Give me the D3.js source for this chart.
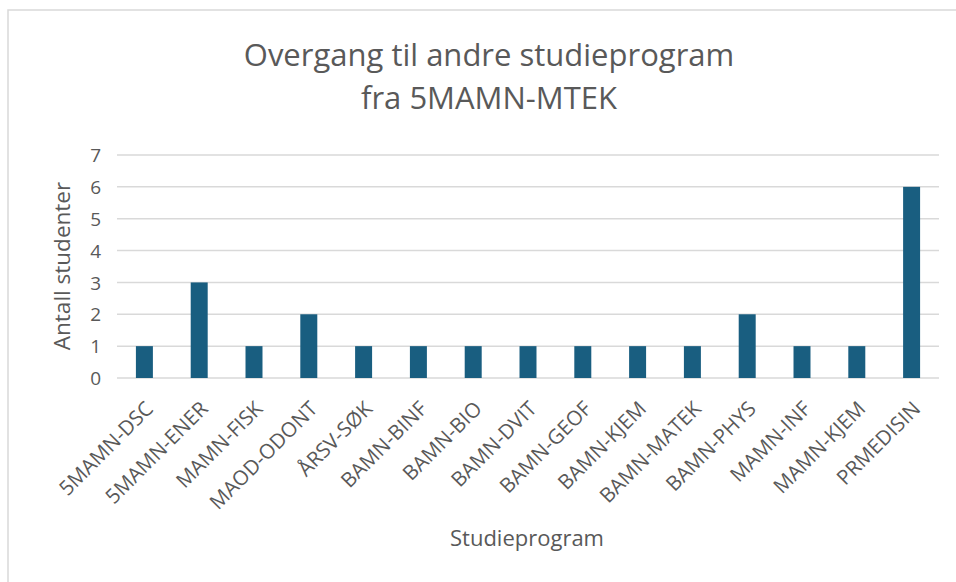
<!DOCTYPE html>
<html><head><meta charset="utf-8">
<script src="https://cdn.jsdelivr.net/npm/d3@7"></script>
<style>body{margin:0;background:#fff}svg{display:block}text{font-family:"Open Sans","Noto Sans",sans-serif}</style>
</head><body>
<svg id="c" width="956" height="582"></svg>
<script>
const categories = ["5MAMN-DSC","5MAMN-ENER","MAMN-FISK","MAOD-ODONT","ÅRSV-SØK","BAMN-BINF","BAMN-BIO","BAMN-DVIT","BAMN-GEOF","BAMN-KJEM","BAMN-MATEK","BAMN-PHYS","MAMN-INF","MAMN-KJEM","PRMEDISIN"];
const values = [1,3,1,2,1,1,1,1,1,1,1,2,1,1,6];
const yTicks = [0,1,2,3,4,5,6,7];
const titleLines = ["Overgang til andre studieprogram","fra 5MAMN-MTEK"];
const xTitle = "Studieprogram";
const yTitle = "Antall studenter";

const svg = d3.select("#c");
const m = {left:117, right:939, top:155, bottom:378};
const x = d3.scaleBand().domain(categories).range([m.left, m.right]).paddingInner(0.69).paddingOuter(0.345);
const y = d3.scaleLinear().domain([0,7]).range([m.bottom, m.top]);

// chart border
svg.append("rect").attr("x",8).attr("y",10).attr("width",960).attr("height",600)
  .attr("fill","none").attr("stroke","#d9d9d9").attr("stroke-width",1.5);

// gridlines
svg.append("g").selectAll("line").data(yTicks).join("line")
  .attr("x1",m.left).attr("x2",m.right).attr("y1",d=>y(d)).attr("y2",d=>y(d))
  .attr("stroke","#d9d9d9").attr("stroke-width",1.5);

// y axis labels
const ya = svg.append("g").attr("transform",`translate(${m.left-16},0)`)
  .call(d3.axisLeft(y).tickValues(yTicks).tickSize(0).tickPadding(0).tickFormat(d3.format("d")));
ya.select(".domain").remove();
ya.selectAll("text").attr("fill","#595959").style("font-size","19px").attr("dy","0.35em");

// bars
svg.append("g").selectAll("rect").data(values).join("rect")
  .attr("x",(d,i)=>x(categories[i])).attr("width",x.bandwidth())
  .attr("y",d=>y(d)).attr("height",d=>y(0)-y(d)).attr("fill","#195e80");

// x axis labels
const xa = svg.append("g").attr("transform",`translate(0,${m.bottom})`)
  .call(d3.axisBottom(x).tickSize(0).tickPadding(0));
xa.select(".domain").remove();
xa.selectAll("text").attr("fill","#595959").style("font-size","20.5px")
  .attr("text-anchor","end").attr("dy",0)
  .attr("transform","translate(10,32) rotate(-45)");

// titles
svg.append("text").attr("x",489).attr("text-anchor","middle").attr("fill","#595959")
  .style("font-size","31px").selectAll("tspan").data(titleLines).join("tspan")
  .attr("x",489).attr("y",(d,i)=>66+i*43).text(d=>d);

svg.append("text").attr("x",527).attr("y",546).attr("text-anchor","middle")
  .attr("fill","#595959").style("font-size","22px").text(xTitle);

svg.append("text").attr("transform","translate(70,266) rotate(-90)").attr("text-anchor","middle")
  .attr("fill","#595959").style("font-size","22.5px").text(yTitle);
</script>
</body></html>
